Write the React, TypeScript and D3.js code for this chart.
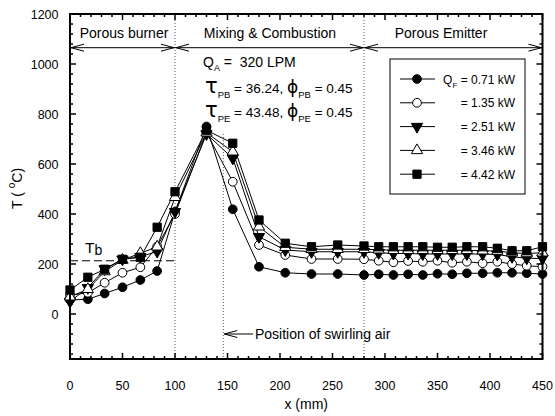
import React, { useEffect, useRef } from "react";
import * as d3 from "d3";

// axial positions (mm)
const xPos = [0, 17, 33, 50, 67, 83, 100, 130, 155, 180, 205, 230, 255, 280, 294, 308, 322, 336, 350, 364, 378, 393, 407, 421, 435, 450];

// temperature (deg C) for each fuel load
const q071 = [56, 59, 82, 107, 136, 172, 409, 750, 419, 189, 165, 160, 160, 156, 159, 156, 159, 156, 161, 159, 163, 163, 165, 165, 163, 160];
const q135 = [75, 85, 125, 165, 187, 270, 400, 725, 529, 276, 236, 220, 220, 219, 213, 207, 212, 209, 213, 205, 209, 203, 209, 200, 193, 189];
const q251 = [50, 105, 180, 219, 229, 250, 409, 720, 623, 309, 256, 249, 249, 249, 245, 242, 242, 240, 240, 240, 240, 240, 238, 229, 223, 222];
const q346 = [69, 99, 170, 216, 243, 269, 467, 725, 649, 349, 267, 259, 259, 259, 257, 255, 255, 255, 255, 255, 255, 253, 252, 245, 242, 245];
const q442 = [96, 147, 179, 219, 227, 347, 489, 735, 683, 376, 283, 269, 276, 272, 269, 269, 269, 269, 267, 267, 269, 269, 263, 253, 253, 269];

const legendLabels = ["= 0.71 kW", "= 1.35 kW", "= 2.51 kW", "= 3.46 kW", "= 4.42 kW"];
const xTicks = [0, 50, 100, 150, 200, 250, 300, 350, 400, 450];
const yTicks = [0, 200, 400, 600, 800, 1000, 1200];
const zoneBounds = [100, 280];
const swirlX = 146;
const tb = 213;

const W = 555;
const H = 416;
const FONT = "Liberation Sans, Arial, sans-serif";

type Mark = { sym: d3.SymbolType; size: number; fill: string; rot: number };

const marks: Mark[] = [
  { sym: d3.symbolCircle, size: 60, fill: "#000", rot: 0 },
  { sym: d3.symbolCircle, size: 60, fill: "#fff", rot: 0 },
  { sym: d3.symbolTriangle, size: 55, fill: "#000", rot: 180 },
  { sym: d3.symbolTriangle, size: 55, fill: "#fff", rot: 0 },
  { sym: d3.symbolSquare, size: 68, fill: "#000", rot: 0 },
];

const App: React.FC = () => {
  const svgRef = useRef<SVGSVGElement>(null);

  useEffect(() => {
    if (!svgRef.current) return;
    const svg = d3.select(svgRef.current);
    svg.selectAll("*").remove();

    const left = 70, right = 542.5, top = 14, bottom = 359;
    const x = d3.scaleLinear().domain([0, 450]).range([left, right]);
    const y = d3.scaleLinear().domain([-180, 1200]).range([bottom, top]);

    // reference lines
    zoneBounds.forEach((b) => {
      svg.append("line")
        .attr("x1", x(b)).attr("x2", x(b))
        .attr("y1", top).attr("y2", bottom)
        .attr("stroke", "#555").attr("stroke-width", 1)
        .attr("stroke-dasharray", "1,2");
    });
    svg.append("line")
      .attr("x1", x(swirlX)).attr("x2", x(swirlX))
      .attr("y1", y(720)).attr("y2", bottom)
      .attr("stroke", "#555").attr("stroke-width", 1)
      .attr("stroke-dasharray", "1,2");

    svg.append("line")
      .attr("x1", x(0)).attr("x2", x(101))
      .attr("y1", y(tb)).attr("y2", y(tb))
      .attr("stroke", "#000").attr("stroke-width", 1)
      .attr("stroke-dasharray", "8,4");

    // series
    const all = [q071, q135, q251, q346, q442];
    const line = d3.line<number>().x((_, i) => x(xPos[i])).y((d) => y(d));
    all.forEach((s) => {
      svg.append("path")
        .attr("d", line(s) || "")
        .attr("fill", "none")
        .attr("stroke", "#000")
        .attr("stroke-width", 1);
    });
    all.forEach((s, k) => {
      const m = marks[k];
      const sym = d3.symbol().type(m.sym).size(m.size);
      svg.append("g")
        .selectAll("path")
        .data(s)
        .join("path")
        .attr("d", sym() || "")
        .attr("transform", (d, i) => `translate(${x(xPos[i])},${y(d)}) rotate(${m.rot})`)
        .attr("fill", m.fill)
        .attr("stroke", "#000")
        .attr("stroke-width", 1);
    });

    // frame + ticks
    svg.append("rect")
      .attr("x", left).attr("y", top)
      .attr("width", right - left).attr("height", bottom - top)
      .attr("fill", "none").attr("stroke", "#000").attr("stroke-width", 2);

    const tk = svg.append("g").attr("stroke", "#000").attr("stroke-width", 1.5);
    d3.range(0, 451, 10).forEach((v) => {
      const len = v % 50 === 0 ? 6 : 3;
      tk.append("line").attr("x1", x(v)).attr("x2", x(v)).attr("y1", bottom).attr("y2", bottom - len);
      tk.append("line").attr("x1", x(v)).attr("x2", x(v)).attr("y1", top).attr("y2", top + len);
    });
    d3.range(-160, 1201, 40).forEach((v) => {
      const len = v % 200 === 0 ? 6 : 3;
      tk.append("line").attr("y1", y(v)).attr("y2", y(v)).attr("x1", left).attr("x2", left + len);
      tk.append("line").attr("y1", y(v)).attr("y2", y(v)).attr("x1", right).attr("x2", right - len);
    });

    const lab = svg.append("g").attr("font-family", FONT).attr("font-size", 12.5).attr("fill", "#000");
    xTicks.forEach((v) => {
      lab.append("text").attr("x", x(v)).attr("y", 389.5).attr("text-anchor", "middle").text(v);
    });
    yTicks.forEach((v) => {
      lab.append("text").attr("x", 58.5).attr("y", y(v) + 4.5).attr("text-anchor", "end").text(v);
    });

    lab.append("text").attr("x", x(225)).attr("y", 409).attr("text-anchor", "middle")
      .attr("font-size", 14).text("x (mm)");
    const yt = lab.append("text")
      .attr("transform", `translate(22,${(top + bottom) / 2 + 2}) rotate(-90)`)
      .attr("text-anchor", "middle").attr("font-size", 14);
    yt.append("tspan").text("T ( ");
    yt.append("tspan").attr("dy", -7).attr("font-size", 10).text("o");
    yt.append("tspan").attr("dy", 7).text("C)");

    // zone labels with arrows
    const arrowY = 47.7;
    const ann = svg.append("g").attr("stroke", "#000").attr("stroke-width", 1).attr("fill", "none");
    ann.append("line").attr("x1", left).attr("x2", right).attr("y1", arrowY).attr("y2", arrowY);
    const head = (tx: number, dir: number, yy: number) => {
      ann.append("path").attr("d", `M${tx - dir * 13},${yy - 3.5}L${tx},${yy}L${tx - dir * 13},${yy + 3.5}`);
    };
    head(left + 1, -1, arrowY);
    head(x(100) - 1, 1, arrowY);
    head(x(100) + 1, -1, arrowY);
    head(x(280) - 1, 1, arrowY);
    head(x(280) + 1, -1, arrowY);
    head(right - 1, 1, arrowY);

    const zt = svg.append("g").attr("font-family", FONT).attr("font-size", 14).attr("fill", "#000").attr("text-anchor", "middle");
    zt.append("text").attr("x", 124).attr("y", 37.5).text("Porous burner");
    zt.append("text").attr("x", 270).attr("y", 37.5).text("Mixing & Combustion");
    zt.append("text").attr("x", 441).attr("y", 37.5).text("Porous Emitter");

    // operating conditions
    const cond = svg.append("g").attr("font-family", FONT).attr("font-size", 14).attr("fill", "#000");
    const q = cond.append("text").attr("x", 203).attr("y", 67).attr("xml:space", "preserve");
    q.append("tspan").text("Q");
    q.append("tspan").attr("dy", 4).attr("font-size", 9).text("A");
    q.append("tspan").attr("dy", -4).text(" =  320 LPM");

    const tauLine = (yy: number, sub: string, tau: string) => {
      const t = cond.append("text").attr("x", 205).attr("y", yy).attr("font-size", 13.5);
      t.append("tspan").attr("font-size", 21).attr("font-family", "DejaVu Sans, sans-serif").text("τ");
      t.append("tspan").attr("dy", 5).attr("font-size", 9.5).text(sub);
      t.append("tspan").attr("dy", -5).text(` = ${tau}, `);
      t.append("tspan").attr("font-size", 17).attr("font-family", "DejaVu Sans, sans-serif").text("ϕ");
      t.append("tspan").attr("dy", 5).attr("font-size", 9.5).text(sub);
      t.append("tspan").attr("dy", -5).text(" = 0.45");
    };
    tauLine(93, "PB", "36.24");
    tauLine(117, "PE", "43.48");

    // swirling air annotation
    const sy = 334;
    ann.append("line").attr("x1", x(swirlX) + 1).attr("x2", 253).attr("y1", sy).attr("y2", sy);
    head(x(swirlX) + 1, -1, sy);
    cond.append("text").attr("x", 255).attr("y", sy + 5).text("Position of swirling air");

    // Tb label
    const tbl = cond.append("text").attr("x", 85).attr("y", 253).attr("font-size", 15.5);
    tbl.append("tspan").text("T");
    tbl.append("tspan").attr("dy", 2).attr("font-size", 14).text("b");

    // legend
    const lg = svg.append("g");
    lg.append("rect").attr("x", 390).attr("y", 59).attr("width", 135).attr("height", 135)
      .attr("fill", "#fff").attr("stroke", "#000").attr("stroke-width", 1);
    legendLabels.forEach((t, k) => {
      const ly = 79 + k * 23.8;
      const m = marks[k];
      lg.append("line").attr("x1", 400).attr("x2", 435).attr("y1", ly).attr("y2", ly)
        .attr("stroke", "#000").attr("stroke-width", 1);
      lg.append("path")
        .attr("d", d3.symbol().type(m.sym).size(m.size)() || "")
        .attr("transform", `translate(417,${ly}) rotate(${m.rot})`)
        .attr("fill", m.fill).attr("stroke", "#000").attr("stroke-width", 1);
      const tx = lg.append("text").attr("x", 515).attr("y", ly + 4.5)
        .attr("font-family", FONT).attr("font-size", 12).attr("text-anchor", "end");
      if (k === 0) {
        tx.append("tspan").text("Q");
        tx.append("tspan").attr("dy", 4).attr("font-size", 8).text("F");
        tx.append("tspan").attr("dy", -4).text(" " + t);
      } else {
        tx.text(t);
      }
    });
  }, []);

  return (
    <svg
      ref={svgRef}
      width={W}
      height={H}
      style={{ position: "absolute", left: 0, top: 0, background: "#fff" }}
    />
  );
};

export default App;
